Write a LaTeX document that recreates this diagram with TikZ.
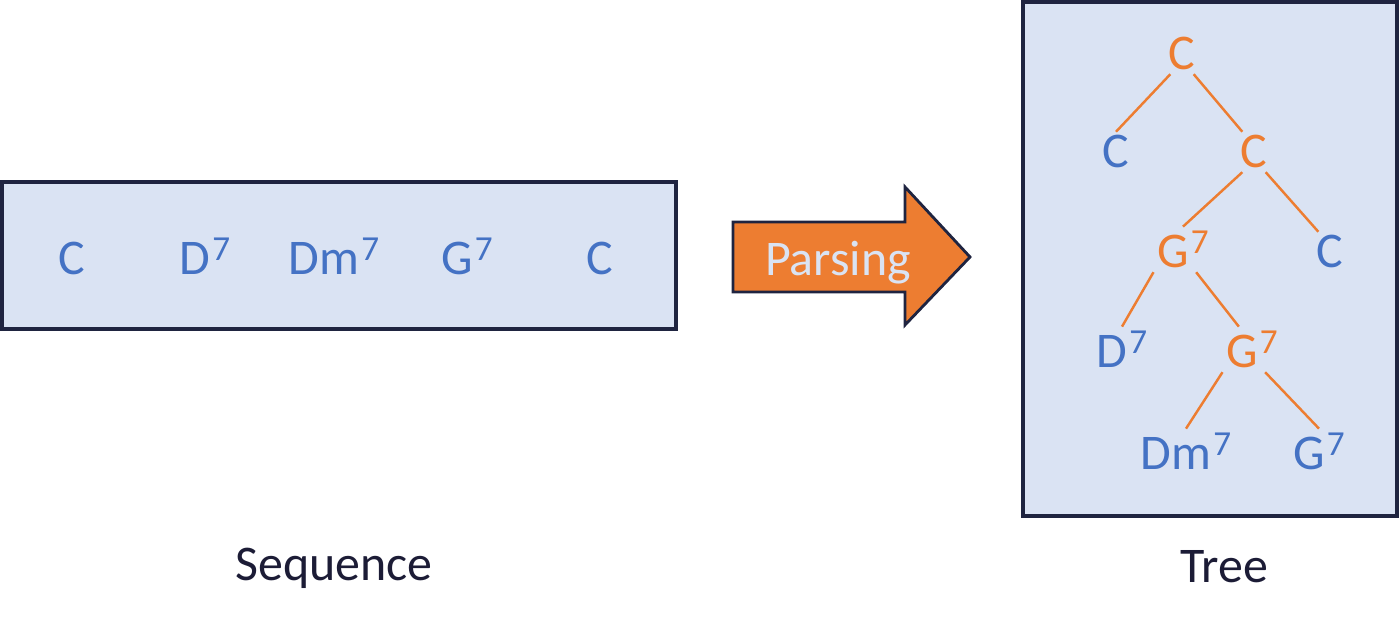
\documentclass[tikz,border=0pt]{standalone}
\usepackage{fontspec}
\setmainfont{Carlito}
\usepackage{tikz}
\usetikzlibrary{positioning}
\definecolor{boxfill}{HTML}{DAE3F3}
\definecolor{boxline}{HTML}{1F2440}
\definecolor{chordblue}{HTML}{4472C4}
\definecolor{chordorange}{HTML}{ED7D31}
\definecolor{labeltext}{HTML}{1C1C36}
\newcommand{\svn}{\kern0.04em\raisebox{0.3em}{\fontsize{20}{20}\selectfont 7}}

\begin{document}
\begin{tikzpicture}[x=0.02cm, y=0.02cm,
    chord/.style={font=\fontsize{28.4}{34}\selectfont, inner sep=2pt, anchor=base},
    chordleaf/.style={chord, text=chordblue},
    chordnode/.style={chord, text=chordorange},
    branch/.style={chordorange, line width=1.4pt},
    box/.style={draw=boxline, fill=boxfill, line width=2pt},
    caption/.style={font=\fontsize{28.4}{34}\selectfont, text=labeltext, anchor=base}]
    \useasboundingbox (0,0) rectangle (1400,626);

    % Sequence box
    \draw[box] (2,297) rectangle (676,444);
    \node[chordleaf] (s1) at (72,351) {C};
    \node[chordleaf] (s2) at (205,351) {D\svn};
    \node[chordleaf] (s3) at (334,351) {Dm\svn};
    \node[chordleaf] (s4) at (467,351) {G\svn};
    \node[chordleaf] (s5) at (600,351) {C};
    \node[caption] (seq) at (334,46) {Sequence};

    % Parsing arrow
    \draw[fill=chordorange, draw=boxline, line width=1.6pt]
        (733,334) -- (905,334) -- (905,301) -- (970,369) -- (905,439)
        -- (905,404) -- (733,404) -- cycle;
    \node[caption, text=boxfill] (parse) at (838,350) {Parsing};

    % Tree box
    \draw[box] (1023,110) rectangle (1397,624);
    \node[chordnode] (root) at (1182,556) {C};
    \node[chordleaf] (lc) at (1116,458) {C};
    \node[chordnode] (rc) at (1254,458) {C};
    \node[chordnode] (g1) at (1183,358) {G\svn};
    \node[chordleaf] (cb) at (1330,358) {C};
    \node[chordleaf] (d7) at (1122,258) {D\svn};
    \node[chordnode] (g2) at (1252,258) {G\svn};
    \node[chordleaf] (dm) at (1186,156) {Dm\svn};
    \node[chordleaf] (g7) at (1319,156) {G\svn};
    \node[caption] (tree) at (1224,44) {Tree};

    % Branches
    \draw[branch] (root.-120) -- (lc.north);
    \draw[branch] (root.-60) -- (rc.120);
    \draw[branch] (rc.-120) -- (g1.north);
    \draw[branch] (rc.-60) -- (cb.120);
    \draw[branch] (g1.south west) -- (d7.north);
    \draw[branch] (g1.-60) -- (g2.120);
    \draw[branch] (g2.south west) -- (dm.north);
    \draw[branch] (g2.-60) -- (g7.north);
\end{tikzpicture}
\end{document}
